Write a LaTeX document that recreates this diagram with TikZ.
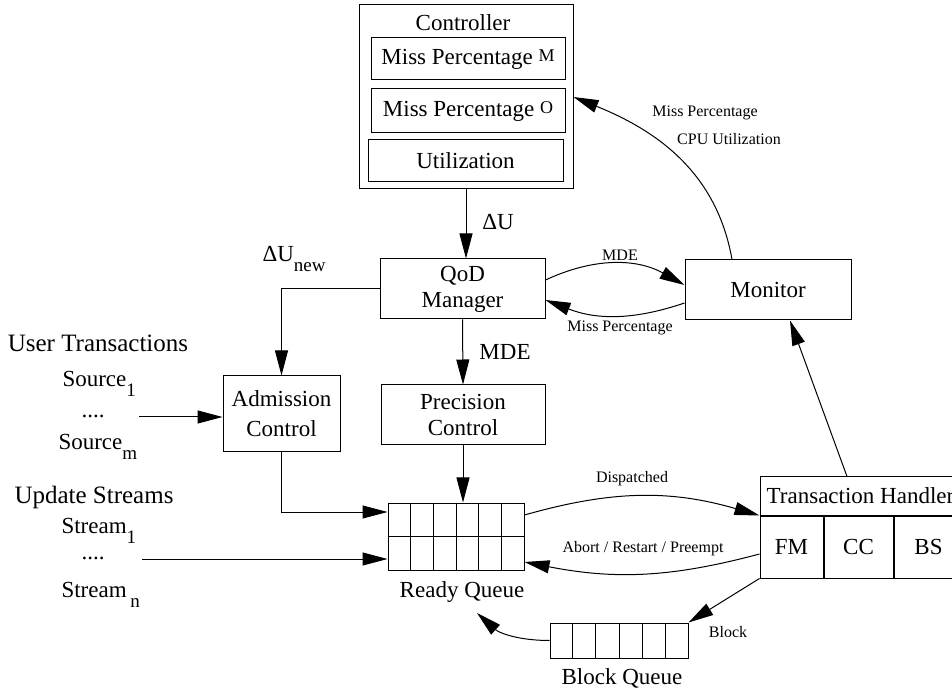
\documentclass[tikz,border=0pt]{standalone}
\usepackage{fontspec}
\setmainfont{Liberation Serif}
\usetikzlibrary{arrows.meta,calc}
\newcommand\lowidx[1]{\raisebox{-5pt}{\fontsize{9.5}{10}\selectfont #1}}
\newcommand\highidx[1]{\raisebox{1.5pt}{\fontsize{9}{10}\selectfont #1}}
\newcommand\queue[4]{\node[queue,minimum width=#3,minimum height=#4] (#1) at (#2) {};
 \foreach \cell in {1,...,5} {\draw ($(#1.north west)!\cell/6!(#1.north east)$) -- ($(#1.south west)!\cell/6!(#1.south east)$);}}

\begin{document}
\begin{tikzpicture}[x=0.5pt,y=-0.5pt,line width=0.5pt,font=\fontsize{11.5}{13}\selectfont]
\tikzstyle{box}=[draw,rectangle,inner sep=0pt,align=center]
\tikzstyle{queue}=[draw,rectangle,inner sep=0pt]
\tikzstyle{plain}=[inner sep=0pt]
\tikzstyle{head}=[inner sep=0pt,font=\fontsize{12.5}{14}\selectfont]
\tikzstyle{small}=[inner sep=0pt,font=\fontsize{8}{9.5}\selectfont]
\tikzstyle{arr}=[draw,-{Triangle[length=12.5pt,width=6.5pt]}]
\useasboundingbox (0,0) rectangle (952,694);

%% controller
\node[box,minimum width=107pt,minimum height=92pt] (ctrl) at (466,97) {};
\node[plain] (ctrllab) at (463,23) {Controller};
\node[box,minimum width=97pt,minimum height=21pt] (mpm) at (468,59) {Miss Percentage \highidx{M}};
\node[box,minimum width=97pt,minimum height=22pt] (mpo) at (468,111) {Miss Percentage \highidx{O}};
\node[box,minimum width=97.5pt,minimum height=21pt] (util) at (465.5,161) {Utilization};

%% boxes
\node[box,minimum width=82.5pt,minimum height=30pt] (qod) at (462.5,289) {QoD\\Manager};
\node[box,minimum width=83pt,minimum height=30pt] (mon) at (768,290) {Monitor};
\node[box,minimum width=58.5pt,minimum height=38pt] (adm) at (281.5,414) {Admission\\[2pt]Control};
\node[box,minimum width=82pt,minimum height=30pt] (prec) at (463,415) {Precision\\Control};

%% queues
\queue{rq}{456,536.5}{68pt}{33.5pt}
\draw (rq.west) -- (rq.east);
\queue{bq}{619,640.5}{69pt}{17.5pt}
\node[plain] (rqlab) at (462,592) {Ready Queue};
\node[plain] (bqlab) at (622,678) {Block Queue};

%% transaction handler
\node[box,minimum width=100.5pt,minimum height=19pt] (th) at (860.5,496) {Transaction Handler};
\node[box,minimum width=31.5pt,minimum height=31pt,anchor=north west] (fm) at (th.south west) {FM};
\node[box,minimum width=34.5pt,minimum height=31pt,anchor=north west] (cc) at (fm.north east) {CC};
\node[box,minimum width=34.5pt,minimum height=31pt,anchor=north west] (bs) at (cc.north east) {BS};

%% sources
\node[head,anchor=base] (ut) at (98,352) {User Transactions};
\node[plain,anchor=base west] (src1) at (62,387) {Source\lowidx{1}};
\node[plain] (srcdots) at (93,416) {....};
\node[plain,anchor=base west] (srcm) at (58,450) {Source\lowidx{m}};
\node[head,anchor=base] (us) at (94,503) {Update Streams};
\node[plain,anchor=base west] (str1) at (61,533) {Stream\lowidx{1}};
\node[plain] (strdots) at (93,558) {....};
\node[plain,anchor=base west] (strn) at (61,597) {Stream\,\lowidx{n}};
\coordinate (srcout) at (139,417);
\coordinate (strout) at (142,559);
\coordinate (bqin) at (477,613);

%% connections
\draw[arr] (ctrl.south) -- (ctrl.south |- qod.north);
\node[plain] (du) at (498,222) {ΔU};
\draw[arr] (qod.west) -| (adm.north);
\node[plain,anchor=base west] (dunew) at (262,262) {ΔU\lowidx{new}};
\draw[arr] (qod.south) -- (prec.north);
\node[plain] (mde) at (505,352) {MDE};
\draw[arr] (prec.south) -- (prec.south |- rq.north);
\draw[arr] (srcout) -- (srcout -| adm.west);
\draw[arr] (adm.south) |- ([yshift=12.25pt]rq.west);
\draw[arr] (strout) -- ([yshift=-11.25pt]rq.west);

\draw[arr] ([yshift=4.5pt]qod.east) to[bend left=27] ([yshift=2.5pt]mon.west);
\node[small] (mdelab) at (620,255) {MDE};
\draw[arr] ([yshift=-6.5pt]mon.west) to[bend left=20] ([yshift=-5.5pt]qod.east);
\node[small] (misslab) at (620,328) {Miss Percentage};

\draw[arr] ([xshift=-18pt]mon.north) to[out=100,in=-22] (ctrl.east);
\node[small] (mplab) at (705,113) {Miss Percentage};
\node[small] (cpulab) at (729,139) {CPU Utilization};
\draw[arr] ([xshift=-6.75pt]th.north) -- ([xshift=11pt]mon.south);

\draw[arr] ([yshift=10.75pt]rq.east) to[bend left=16] (th.south west);
\node[small] (displab) at (632,479) {Dispatched};
\draw[arr] ([yshift=-3.5pt]fm.west) to[bend left=13] ([yshift=-12.75pt]rq.east);
\node[small] (abortlab) at (643,549) {Abort / Restart / Preempt};
\draw[arr] (fm.south west) -- (bq.north east);
\node[small] (blocklab) at (728,632) {Block};
\draw[arr] (bq.west) to[out=180,in=-42] (bqin);
\end{tikzpicture}
\end{document}
